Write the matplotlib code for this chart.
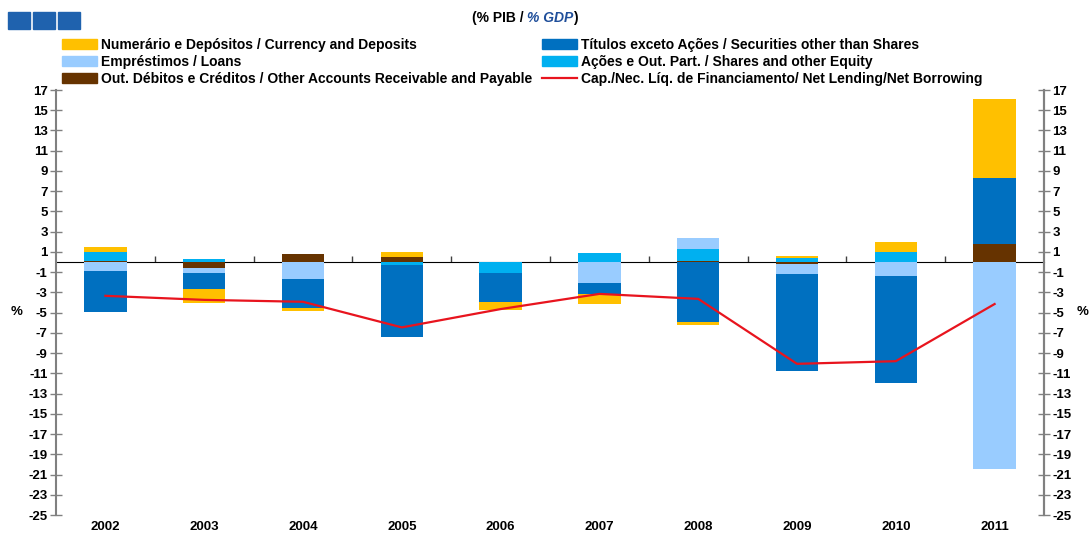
import numpy as np
import matplotlib
matplotlib.use("Agg")
import matplotlib.pyplot as plt
from matplotlib.patches import Patch, Rectangle
from matplotlib.lines import Line2D

years = ["2002", "2003", "2004", "2005", "2006", "2007", "2008", "2009", "2010", "2011"]

# series values, % of GDP
outros = [0.15, -0.56, 0.82, 0.49, 0.0, 0.0, 0.12, -0.2, 0.05, 1.81]
acoes = [0.85, 0.26, 0.0, -0.26, -1.05, 0.92, 1.15, 0.4, 0.92, 0.0]
emprestimos = [-0.85, -0.52, -1.64, 0.0, 0.0, -2.03, 1.09, -1.02, -1.35, -20.5]
titulos = [-4.1, -1.54, -2.95, -7.18, -2.88, -1.15, -5.9, -9.55, -10.65, 6.49]
numerario = [0.46, -1.41, -0.26, 0.49, -0.85, -0.98, -0.33, 0.23, 1.05, 7.84]
cap_nec = [-3.34, -3.74, -3.93, -6.46, -4.65, -3.15, -3.64, -10.06, -9.8, -4.15]

yticks = list(range(-25, 18, 2))

c_yellow = "#FFC000"
c_dblue = "#0070C0"
c_lblue = "#99CCFF"
c_cyan = "#00B0F0"
c_brown = "#663300"
c_red = "#E8141E"

tick_font = ["Liberation Sans", "DejaVu Sans"]
leg_font = ["Liberation Sans Narrow", "Liberation Sans", "DejaVu Sans"]

fig = plt.figure(figsize=(10.89, 5.33), dpi=100)
ax = fig.add_axes([56 / 1089, 1 - 515 / 533, 988 / 1089, 425 / 533])

x = np.arange(len(years))
# stacking order as in the source chart
stack = [(outros, c_brown), (acoes, c_cyan), (emprestimos, c_lblue),
         (titulos, c_dblue), (numerario, c_yellow)]
pos = np.zeros(len(years))
neg = np.zeros(len(years))
for vals, col in stack:
    v = np.array(vals)
    bottoms = np.where(v >= 0, pos, neg)
    ax.bar(x, v, 0.43, bottom=bottoms, color=col, linewidth=0, zorder=2)
    pos = pos + np.where(v > 0, v, 0)
    neg = neg + np.where(v < 0, v, 0)

ax.plot(x, cap_nec, color=c_red, lw=1.6, zorder=4)

ax.set_xlim(-0.5, len(years) - 0.5)
ax.set_ylim(-25, 17)
ax.set_yticks(yticks)
ax.set_yticklabels([str(t) for t in yticks], fontfamily=tick_font,
                   fontweight="bold", fontsize=9.5)
ax.tick_params(axis="y", direction="inout", length=8, width=1, color="#808080", pad=2)

ax.set_xticks(x)
ax.set_xticklabels(years, fontfamily=tick_font, fontweight="bold", fontsize=9.5)
ax.tick_params(axis="x", length=0, pad=4)

for s in ["top", "bottom"]:
    ax.spines[s].set_visible(False)
for s in ["left", "right"]:
    ax.spines[s].set_color("#808080")
    ax.spines[s].set_linewidth(1.5)

# zero line with category ticks
zx = ax.secondary_xaxis(25 / 42)
zx.set_xticks(np.arange(0.5, len(years) - 1, 1.0))
zx.set_xticklabels([])
zx.tick_params(direction="out", length=4, width=1, color="#404040")
zx.spines["bottom"].set_color("#606060")
zx.spines["bottom"].set_linewidth(1.2)
zx.spines["bottom"].set_zorder(3)

ax2 = ax.twinx()
ax2.set_ylim(-25, 17)
ax2.set_yticks(yticks)
ax2.set_yticklabels([str(t) for t in yticks], fontfamily=tick_font,
                    fontweight="bold", fontsize=9.5)
ax2.tick_params(axis="y", direction="inout", length=8, width=1, color="#808080", pad=2)
for s in ["top", "bottom", "left"]:
    ax2.spines[s].set_visible(False)
ax2.spines["right"].set_color("#808080")
ax2.spines["right"].set_linewidth(1.5)

fig.text(17 / 1089, 1 - 312 / 533, "%", fontfamily=tick_font, fontweight="bold",
         fontsize=9.5, ha="center", va="center")
fig.text(1083 / 1089, 1 - 312 / 533, "%", fontfamily=tick_font, fontweight="bold",
         fontsize=9.5, ha="center", va="center")

# legend
handles = [
    Patch(color=c_yellow, label="Numerário e Depósitos / Currency and Deposits"),
    Patch(color=c_lblue, label="Empréstimos / Loans"),
    Patch(color=c_brown, label="Out. Débitos e Créditos / Other Accounts Receivable and Payable"),
    Patch(color=c_dblue, label="Títulos exceto Ações / Securities other than Shares"),
    Patch(color=c_cyan, label="Ações e Out. Part. / Shares and other Equity"),
    Line2D([], [], color=c_red, lw=1.6,
           label="Cap./Nec. Líq. de Financiamento/ Net Lending/Net Borrowing"),
]
fig.legend(handles=handles, ncol=2, loc="upper left", bbox_to_anchor=(62 / 1089, 1 - 38 / 533),
           frameon=False, prop={"family": leg_font, "size": 10, "weight": "bold"},
           handlelength=2.5, handleheight=0.7, handletextpad=0.3,
           columnspacing=0.7, labelspacing=0.2, borderpad=0, borderaxespad=0)

# title
ty = 1 - 18 / 533
fig.text(527 / 1089, ty, "(% PIB / ", fontfamily=tick_font, fontweight="bold",
         fontsize=10, ha="right", va="center")
fig.text(527 / 1089, ty, "% GDP", fontfamily=tick_font, fontweight="bold",
         fontstyle="italic", color="#1F4E9A", fontsize=10, ha="left", va="center")
fig.text(573 / 1089, ty, ")", fontfamily=tick_font, fontweight="bold",
         fontsize=10, ha="left", va="center")

# three blue squares at the top left
for i in range(3):
    fig.patches.append(Rectangle(((8 + i * 25) / 1089, 1 - 29 / 533), 22 / 1089, 17 / 533,
                                 transform=fig.transFigure, color="#1F62AE"))

fig.savefig("out.png", dpi=100)
